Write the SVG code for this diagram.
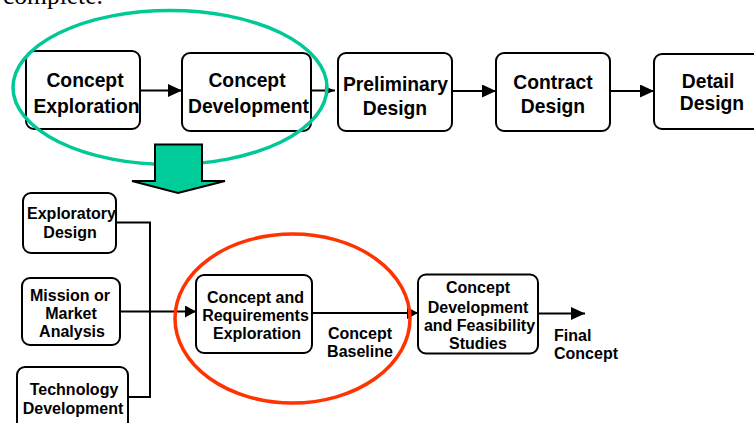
<svg xmlns="http://www.w3.org/2000/svg" width="754" height="423" viewBox="0 0 754 423">
<defs>
<style>
.box{fill:#fff;stroke:#000;stroke-width:2}
.t1{font-family:"Liberation Sans",Arial,sans-serif;font-weight:bold;font-size:19.3px;fill:#000;text-anchor:middle}
.t2{font-family:"Liberation Sans",Arial,sans-serif;font-weight:bold;font-size:16px;fill:#000;text-anchor:middle}
.ln{fill:none;stroke:#000;stroke-width:2}
</style>
<marker id="ah" markerUnits="userSpaceOnUse" markerWidth="14" markerHeight="13" refX="14" refY="6.5" orient="auto" viewBox="0 0 14 13">
<path d="M0,0 L14,6.5 L0,13 z" fill="#000"/>
</marker>
<marker id="ahs" markerUnits="userSpaceOnUse" markerWidth="10" markerHeight="8" refX="10" refY="4" orient="auto" viewBox="0 0 10 8">
<path d="M0,0 L10,4 L0,8 z" fill="#000"/>
</marker>
<marker id="ahm" markerUnits="userSpaceOnUse" markerWidth="11" markerHeight="12" refX="11" refY="6" orient="auto" viewBox="0 0 11 12">
<path d="M0,0 L11,6 L0,12 z" fill="#000"/>
</marker>
</defs>
<rect width="754" height="423" fill="#fff"/>
<text x="3" y="4" font-family="'Liberation Serif',serif" font-size="25.5px" fill="#000">complete.</text>

<g id="connectors">
<line class="ln" x1="140" y1="90.5" x2="182" y2="90.5" marker-end="url(#ah)"/>
<line class="ln" x1="311" y1="90.5" x2="335" y2="90.5" marker-end="url(#ahs)"/>
<line class="ln" x1="452" y1="91" x2="496" y2="91" marker-end="url(#ah)"/>
<line class="ln" x1="610" y1="91" x2="654" y2="91" marker-end="url(#ah)"/>
<polyline class="ln" points="116,222.5 150,222.5 150,397 128,397"/>
<line class="ln" x1="120" y1="311.5" x2="196" y2="311.5" marker-end="url(#ahm)"/>
<line class="ln" x1="312" y1="313" x2="418" y2="313" marker-end="url(#ahm)"/>
<line class="ln" x1="538" y1="313.5" x2="585" y2="313.5" marker-end="url(#ah)"/>
</g>

<g id="concept-exploration">
<rect class="box" x="26" y="51" width="114" height="78" rx="8"/>
<text class="t1" x="85" y="87">Concept</text>
<text class="t1" x="86.5" y="113">Exploration</text>
</g>
<g id="concept-development">
<rect class="box" x="182" y="53" width="129" height="78" rx="8"/>
<text class="t1" x="247" y="87">Concept</text>
<text class="t1" x="248.5" y="113">Development</text>
</g>
<g id="preliminary-design">
<rect class="box" x="338" y="53" width="114" height="78" rx="8"/>
<text class="t1" x="395.5" y="91">Preliminary</text>
<text class="t1" x="395" y="115">Design</text>
</g>
<g id="contract-design">
<rect class="box" x="496" y="53" width="114" height="78" rx="8"/>
<text class="t1" x="553" y="89">Contract</text>
<text class="t1" x="553" y="113">Design</text>
</g>
<g id="detail-design">
<rect class="box" x="654" y="54" width="110" height="75" rx="8"/>
<text class="t1" x="708" y="88">Detail</text>
<text class="t1" x="712" y="110">Design</text>
</g>

<g id="exploratory-design">
<rect class="box" x="23" y="193" width="93" height="60" rx="8"/>
<text class="t2" x="71.5" y="219">Exploratory</text>
<text class="t2" x="70" y="238">Design</text>
</g>
<g id="mission-analysis">
<rect class="box" x="22" y="278" width="98" height="67" rx="8"/>
<text class="t2" x="70" y="301">Mission or</text>
<text class="t2" x="71" y="319">Market</text>
<text class="t2" x="72" y="337">Analysis</text>
</g>
<g id="technology-development">
<rect class="box" x="17" y="367" width="111" height="70" rx="8"/>
<text class="t2" x="74" y="395">Technology</text>
<text class="t2" x="73" y="414">Development</text>
</g>
<g id="concept-requirements">
<rect class="box" x="196" y="275" width="116" height="78" rx="8"/>
<text class="t2" x="255.5" y="303">Concept and</text>
<text class="t2" x="255.5" y="321">Requirements</text>
<text class="t2" x="257" y="339">Exploration</text>
</g>
<g id="concept-baseline">
<text class="t2" x="360" y="339">Concept</text>
<text class="t2" x="360" y="357">Baseline</text>
</g>
<g id="concept-feasibility">
<rect class="box" x="418" y="274.5" width="120" height="79" rx="8"/>
<text class="t2" x="478" y="293">Concept</text>
<text class="t2" x="478" y="313">Development</text>
<text class="t2" x="479.5" y="331">and Feasibility</text>
<text class="t2" x="478" y="348.5">Studies</text>
</g>
<g id="final-concept">
<text class="t2" x="554" y="341" style="text-anchor:start">Final</text>
<text class="t2" x="554" y="358.5" style="text-anchor:start">Concept</text>
</g>

<ellipse cx="170" cy="87.5" rx="157" ry="77" fill="none" stroke="#00C896" stroke-width="3.5"/>
<ellipse cx="292.5" cy="318.5" rx="117.5" ry="84.5" fill="none" stroke="#FF3300" stroke-width="3.5"/>
<polygon id="block-arrow" points="155,144.5 202,144.5 202,181 225,181 178,193 132,181 155,181" fill="#00CC99" stroke="#000" stroke-width="2" stroke-linejoin="miter"/>
</svg>
